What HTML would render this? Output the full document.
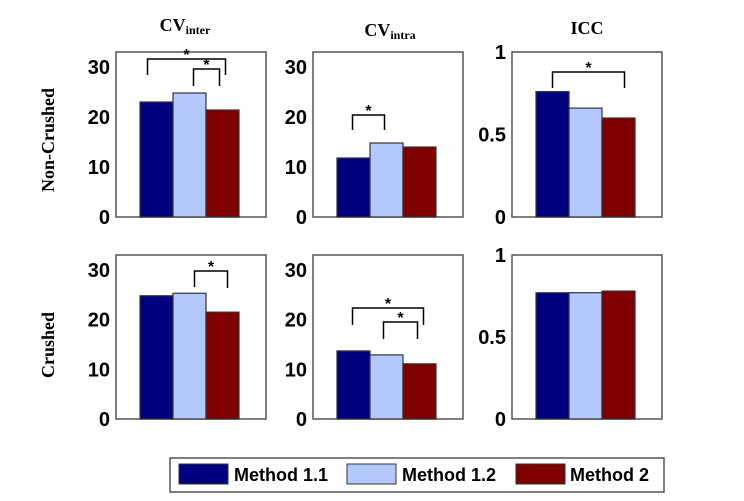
<!DOCTYPE html>
<html><head><meta charset="utf-8"><style>
html,body{margin:0;padding:0;background:#fff}
svg{display:block}
.tk{font-family:"Liberation Sans",Arial,sans-serif;font-weight:bold;font-size:20px;fill:#000}
.tt{font-family:"Liberation Serif",serif;font-weight:bold;font-size:18px;fill:#000}
.lg{font-family:"Liberation Sans",Arial,sans-serif;font-weight:bold;font-size:18px;fill:#000}
</style></head><body>
<svg id="c" width="744" height="501" viewBox="0 0 744 501" xmlns="http://www.w3.org/2000/svg">
<text class="tt" x="185" y="31" text-anchor="middle">CV<tspan font-size="12" dy="3">inter</tspan></text>
<text class="tt" x="390" y="36" text-anchor="middle">CV<tspan font-size="12" dy="3">intra</tspan></text>
<text class="tt" x="587" y="34" text-anchor="middle">ICC</text>
<text class="tt" transform="translate(54,140) rotate(-90)" text-anchor="middle">Non-Crushed</text>
<text class="tt" transform="translate(54,345) rotate(-90)" text-anchor="middle">Crushed</text>
<g>
<rect x="170" y="458" width="494" height="34" fill="#fff" stroke="#555" stroke-width="1.5"/>
<rect x="179" y="464" width="49" height="20" fill="#000080" stroke="#333"/>
<text class="lg" x="234" y="481">Method 1.1</text>
<rect x="347" y="464" width="49" height="20" fill="#b3c8fc" stroke="#333"/>
<text class="lg" x="402" y="481">Method 1.2</text>
<rect x="516" y="464" width="49" height="20" fill="#800000" stroke="#333"/>
<text class="lg" x="570" y="481">Method 2</text>
</g>
</svg>
<script>
const methods = ["Method 1.1","Method 1.2","Method 2"];
const colors = ["#000080","#b3c8fc","#800000"];
const panelNames = ["cv-inter-non-crushed","cv-intra-non-crushed","icc-non-crushed","cv-inter-crushed","cv-intra-crushed","icc-crushed"];
const valsCvInterNC = [23.0, 24.8, 21.4];
const valsCvIntraNC = [11.8, 14.8, 14.0];
const valsIccNC = [0.76, 0.66, 0.60];
const valsCvInterC = [24.8, 25.3, 21.5];
const valsCvIntraC = [13.7, 12.9, 11.1];
const valsIccC = [0.77, 0.77, 0.78];
const ticksCv = [0, 10, 20, 30];
const ticksIcc = [0, 0.5, 1];
const tickLabelsCv = ["0","10","20","30"];
const tickLabelsIcc = ["0","0.5","1"];
const ns = "http://www.w3.org/2000/svg";
const svg = document.getElementById("c");
function mk(tag, attrs){const e=document.createElementNS(ns,tag);for(const k in attrs)e.setAttribute(k,attrs[k]);svg.appendChild(e);return e;}
const colX=[116,313,512], rowY=[[52,217],[255,419]];
// bracket: [barA, barB, topY, legA, legB, offA, offB]
const panels=[
 {v:valsCvInterNC,t:ticksCv,tl:tickLabelsCv,max:33,c:0,r:0,br:[[0,2,59,75,75,-9,3],[1,2,69,86,86,4,-3]]},
 {v:valsCvIntraNC,t:ticksCv,tl:tickLabelsCv,max:33,c:1,r:0,br:[[0,1,115,130,130,-1,-2]]},
 {v:valsIccNC,t:ticksIcc,tl:tickLabelsIcc,max:1,c:2,r:0,br:[[0,2,72,88,88,0,6]]},
 {v:valsCvInterC,t:ticksCv,tl:tickLabelsCv,max:33,c:0,r:1,br:[[1,2,271,287,288,5,5]]},
 {v:valsCvIntraC,t:ticksCv,tl:tickLabelsCv,max:33,c:1,r:1,br:[[0,2,308,325,325,-1,4],[1,2,322,339,339,-3,-2]]},
 {v:valsIccC,t:ticksIcc,tl:tickLabelsIcc,max:1,c:2,r:1,br:[]}
];
panels.forEach((p,i)=>{
 const x0=colX[p.c], yT=rowY[p.r][0], yB=rowY[p.r][1];
 const isIcc=p.max===1;
 const yTop=isIcc?yT:yB-(yB-yT)*30/33;
 const yS=v=>yB-(v/(isIcc?1:30))*(yB-yTop);
 const bx=j=>x0+24+j*33;
 const fr=mk("rect",{x:x0,y:yT,width:150,height:yB-yT,fill:"#fff",stroke:"#555","stroke-width":1.5});
 
 
 p.t.forEach((t,k)=>{
  const tx=mk("text",{class:"tk",x:x0-6,y:yS(t)+7,"text-anchor":"end"});
  tx.textContent=p.tl[k];
  
  
 });
 p.v.forEach((v,j)=>{
  const b=mk("rect",{x:bx(j),y:yS(v),width:33,height:yB-yS(v),fill:colors[j],stroke:"#333","stroke-width":1.2});
  
  
 });
 p.br.forEach(br=>{
  const xa=bx(br[0])+16.5+br[5], xb=bx(br[1])+16.5+br[6];
  const pl=mk("polyline",{points:`${xa},${br[3]} ${xa},${br[2]} ${xb},${br[2]} ${xb},${br[4]}`,fill:"none",stroke:"#000","stroke-width":1.5});
  
  
  const st=mk("text",{x:(xa+xb)/2,y:br[2]+1,"text-anchor":"middle",style:"font-family:'Liberation Sans',sans-serif;font-weight:bold;font-size:16px"});
  st.textContent="*";
  
  
 });
});
</script>
</body></html>
